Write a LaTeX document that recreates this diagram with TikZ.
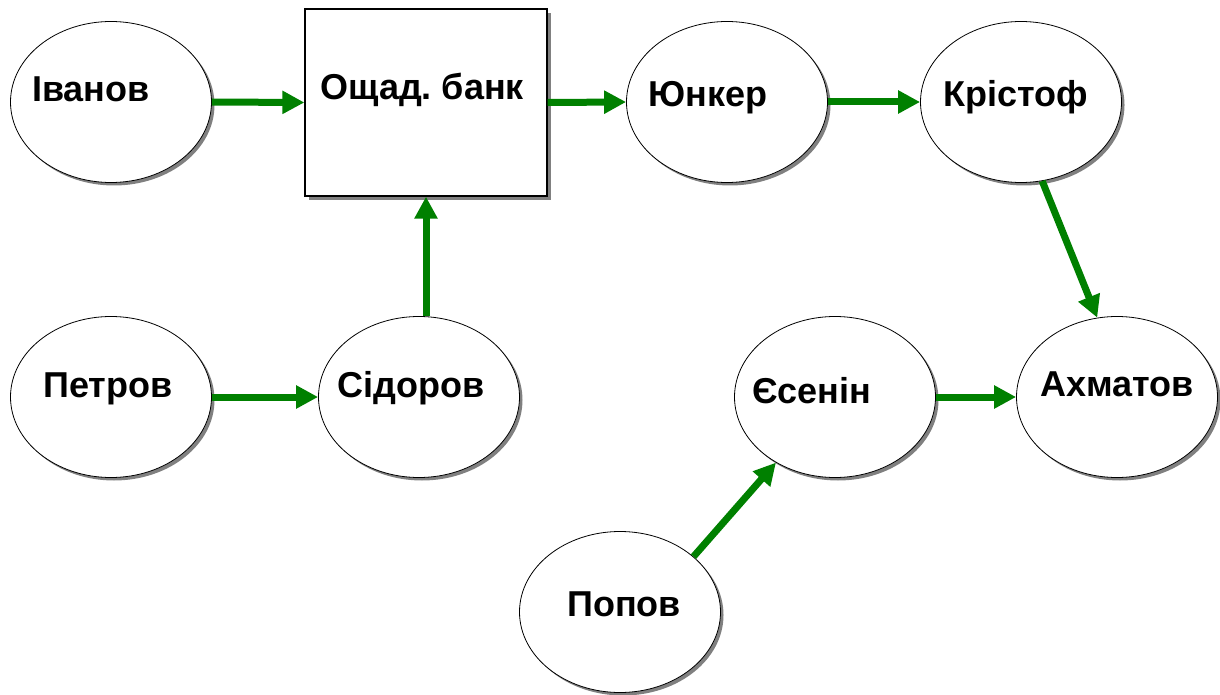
\documentclass[tikz,border=0pt]{standalone}
\usepackage{fontspec}
\setmainfont{Liberation Sans}
\usetikzlibrary{shapes.geometric,arrows.meta,shadows}
\definecolor{arrgreen}{RGB}{0,128,0}
\frenchspacing
\begin{document}
\begin{tikzpicture}[x=1pt,y=-1pt,
  person/.style={ellipse,draw=black,line width=0.8pt,fill=white,minimum width=201pt,minimum height=161pt,inner sep=0pt,
    drop shadow={shadow xshift=3pt,shadow yshift=-3pt,fill=gray,opacity=1}},
  bankbox/.style={rectangle,draw=black,line width=1.3pt,fill=white,minimum width=242pt,minimum height=187pt,inner sep=0pt,
    drop shadow={shadow xshift=4pt,shadow yshift=-4pt,fill=gray,opacity=1}},
  lbl/.style={anchor=base west,inner sep=0pt,font=\fontsize{36}{40}\selectfont\bfseries},
  flow/.style={draw=arrgreen,line width=7pt,-{Triangle[length=22pt,width=22pt]},arrgreen}]
\useasboundingbox (0,0) rectangle (1220,695);
\node[person] (iv) at (111,102) {};
\node[bankbox] (ob) at (426,102.5) {};
\node[person] (yu) at (727,102) {};
\node[person] (kr) at (1021,102) {};
\node[person] (pe) at (111,397) {};
\node[person] (si) at (419,397) {};
\node[person] (ye) at (835,397) {};
\node[person] (ax) at (1117,397) {};
\node[person] (po) at (620,612) {};
\node[lbl] (tiv) at (32,102) {Іванов};
\node[lbl] (tob) at (320,100) {Ощад. банк};
\node[lbl] (tyu) at (648,107) {Юнкер};
\node[lbl] (tkr) at (943,107) {Крістоф};
\node[lbl] (tpe) at (43,397) {Петров};
\node[lbl] (tsi) at (337,397) {Сідоров};
\node[lbl] (tye) at (752,403) {Єсенін};
\node[lbl] (tax) at (1040,396) {Ахматов};
\node[lbl] (tpo) at (567,616) {Попов};
\draw[flow] (iv.east) -- (ob.west);
\draw[flow] (ob.east) -- (yu.west);
\draw[flow] (yu.east) -- (kr.west);
\draw[flow] (pe.east) -- (si.west);
\draw[flow] (si.north -| ob.south) -- (ob.south);
\draw[flow] (ye.east) -- (ax.west);
\draw[flow] (kr.-75) -- (ax.104);
\draw[flow] (po.37) -- (ye.-132);
\end{tikzpicture}
\end{document}
